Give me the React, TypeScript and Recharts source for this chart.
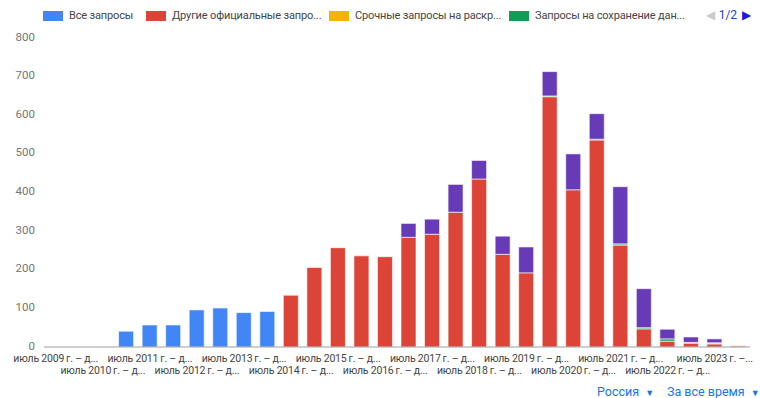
import { BarChart, Bar, XAxis, YAxis } from 'recharts';

// периоды по полугодиям
const periods = [
  'июль 2009 г. – дек. 2009 г.', 'янв. 2010 г. – июнь 2010 г.',
  'июль 2010 г. – дек. 2010 г.', 'янв. 2011 г. – июнь 2011 г.',
  'июль 2011 г. – дек. 2011 г.', 'янв. 2012 г. – июнь 2012 г.',
  'июль 2012 г. – дек. 2012 г.', 'янв. 2013 г. – июнь 2013 г.',
  'июль 2013 г. – дек. 2013 г.', 'янв. 2014 г. – июнь 2014 г.',
  'июль 2014 г. – дек. 2014 г.', 'янв. 2015 г. – июнь 2015 г.',
  'июль 2015 г. – дек. 2015 г.', 'янв. 2016 г. – июнь 2016 г.',
  'июль 2016 г. – дек. 2016 г.', 'янв. 2017 г. – июнь 2017 г.',
  'июль 2017 г. – дек. 2017 г.', 'янв. 2018 г. – июнь 2018 г.',
  'июль 2018 г. – дек. 2018 г.', 'янв. 2019 г. – июнь 2019 г.',
  'июль 2019 г. – дек. 2019 г.', 'янв. 2020 г. – июнь 2020 г.',
  'июль 2020 г. – дек. 2020 г.', 'янв. 2021 г. – июнь 2021 г.',
  'июль 2021 г. – дек. 2021 г.', 'янв. 2022 г. – июнь 2022 г.',
  'июль 2022 г. – дек. 2022 г.', 'янв. 2023 г. – июнь 2023 г.',
  'июль 2023 г. – дек. 2023 г.', 'янв. 2024 г. – июнь 2024 г.',
];

// подписи оси X (обрезанные, как в оригинале)
const tickLabels: Record<number, string> = {
  0: 'июль 2009\u2009г. – д...', 2: 'июль 2010\u2009г. – д...', 4: 'июль 2011\u2009г. – д...',
  6: 'июль 2012\u2009г. – д...', 8: 'июль 2013\u2009г. – д...', 10: 'июль 2014\u2009г. – д...',
  12: 'июль 2015\u2009г. – д...', 14: 'июль 2016\u2009г. – д...', 16: 'июль 2017\u2009г. – д...',
  18: 'июль 2018\u2009г. – д...', 20: 'июль 2019\u2009г. – д...', 22: 'июль 2020\u2009г. – д...',
  24: 'июль 2021\u2009г. – д...', 26: 'июль 2022\u2009г. – д...', 28: 'июль 2023\u2009г. –...',
};

const yTicks = [0, 100, 200, 300, 400, 500, 600, 700, 800];

const allRequests = [0, 0, 0, 41, 57, 57, 96, 101, 89, 92, 0, 0, 0, 0, 0, 0, 0, 0, 0, 0, 0, 0, 0, 0, 0, 0, 0, 0, 0, 0];
const otherOfficial = [0, 0, 0, 0, 0, 0, 0, 0, 0, 0, 134, 206, 257, 236, 234, 284, 292, 349, 435, 240, 192, 648, 407, 536, 264, 47, 15, 10, 8, 3];
const emergency = [0, 0, 0, 0, 0, 0, 0, 0, 0, 0, 0, 0, 0, 0, 0, 0, 0, 0, 0, 0, 0, 0, 0, 0, 0, 0, 0, 2, 1, 1];
const preservation = [0, 0, 0, 0, 0, 0, 0, 0, 0, 0, 0, 0, 0, 0, 1, 0, 0, 0, 0, 0, 0, 2, 0, 2, 3, 3, 6, 0, 2, 0];
const otherRequests = [0, 0, 0, 0, 0, 0, 0, 0, 0, 0, 0, 0, 0, 0, 0, 36, 39, 72, 48, 47, 67, 63, 93, 66, 148, 101, 25, 14, 10, 0];

const series = [
  { key: 'all', name: 'Все запросы', short: 'Все запросы', color: '#4285F4', values: allRequests },
  { key: 'other', name: 'Другие официальные запросы', short: 'Другие официальные запро...', color: '#DB4437', values: otherOfficial },
  { key: 'emerg', name: 'Срочные запросы на раскрытие информации', short: 'Срочные запросы на раскр...', color: '#F4B400', values: emergency },
  { key: 'pres', name: 'Запросы на сохранение данных', short: 'Запросы на сохранение дан...', color: '#0F9D58', values: preservation },
  { key: 'rest', name: 'Прочие запросы', short: 'Прочие запросы', color: '#673AB7', values: otherRequests },
];

const data = periods.map((p, i) => {
  const row: Record<string, string | number> = { period: p };
  series.forEach(s => { row[s.key] = s.values[i]; });
  return row;
});

const FONT = 'Roboto, "Noto Sans", Arial, sans-serif';

function XTick(props: any) {
  const { x, y, index } = props;
  const label = tickLabels[index];
  if (!label) return null;
  const row = (index / 2) % 2;
  return (
    <text x={x} y={y + 3 + row * 12.5} textAnchor="middle" dominantBaseline="central"
      fill="#444" fontSize={10.5} letterSpacing={-0.2} fontFamily={FONT}>
      {label}
    </text>
  );
}

function YTick(props: any) {
  const { x, y, payload } = props;
  return (
    <text x={x} y={y - 1.5} textAnchor="end" dominantBaseline="central"
      fill="#757575" fontSize={11.5} fontFamily={FONT}>
      {payload.value}
    </text>
  );
}

export default function App() {
  return (
    <div style={{ position: 'absolute', left: 0, top: 0, width: 760, height: 398, background: '#fff', fontFamily: FONT }}>
      {/* легенда, страница 1/2 */}
      <div style={{ position: 'absolute', top: 9, left: 0, width: 760, height: 14, fontSize: 11, letterSpacing: -0.15, color: '#444' }}>
        {series.slice(0, 4).map((s, i) => (
          <div key={s.key} style={{ position: 'absolute', left: [43, 146, 329, 509][i], top: 0, display: 'flex', alignItems: 'center', whiteSpace: 'nowrap' }}>
            <span style={{ display: 'inline-block', width: 20, height: 10, background: s.color, marginRight: 6 }} />
            <span>{s.short}</span>
          </div>
        ))}
        <div style={{ position: 'absolute', left: 706, top: -1, display: 'flex', alignItems: 'center', fontSize: 12 }}>
          <span style={{ color: '#ccc', fontSize: 12 }}>◀</span>
          <span style={{ color: '#1a47c8', marginLeft: 4 }}>1/2</span>
          <span style={{ color: '#1a1ad8', fontSize: 12, marginLeft: 5 }}>▶</span>
        </div>
      </div>

      <div style={{ position: 'absolute', left: 0, top: 0 }}>
        <BarChart width={760} height={398} data={data} margin={{ top: 38, right: 10, left: 0, bottom: 21 }} barSize={15}>
          <XAxis dataKey="period" interval={0} tick={<XTick />} tickLine={false}
            axisLine={{ stroke: '#9e9e9e' }} height={30} />
          <YAxis domain={[0, 800]} ticks={yTicks} width={44}
            axisLine={false} tickLine={false} tickSize={0} tickMargin={9}
            tick={<YTick />} />
          {series.map(s => (
            <Bar key={s.key} dataKey={s.key} name={s.name} stackId="a" fill={s.color}
              stroke="#fff" strokeOpacity={0.6} strokeWidth={1} isAnimationActive={false} />
          ))}
        </BarChart>
      </div>

      <div style={{ position: 'absolute', top: 384, left: 597, fontSize: 12.5, color: '#1a73e8', whiteSpace: 'nowrap' }}>
        Россия <span style={{ fontSize: 9, marginLeft: 3 }}>▼</span>
      </div>
      <div style={{ position: 'absolute', top: 384, left: 667, fontSize: 12.5, color: '#1a73e8', whiteSpace: 'nowrap' }}>
        За все время <span style={{ fontSize: 9, marginLeft: 3 }}>▼</span>
      </div>
    </div>
  );
}
